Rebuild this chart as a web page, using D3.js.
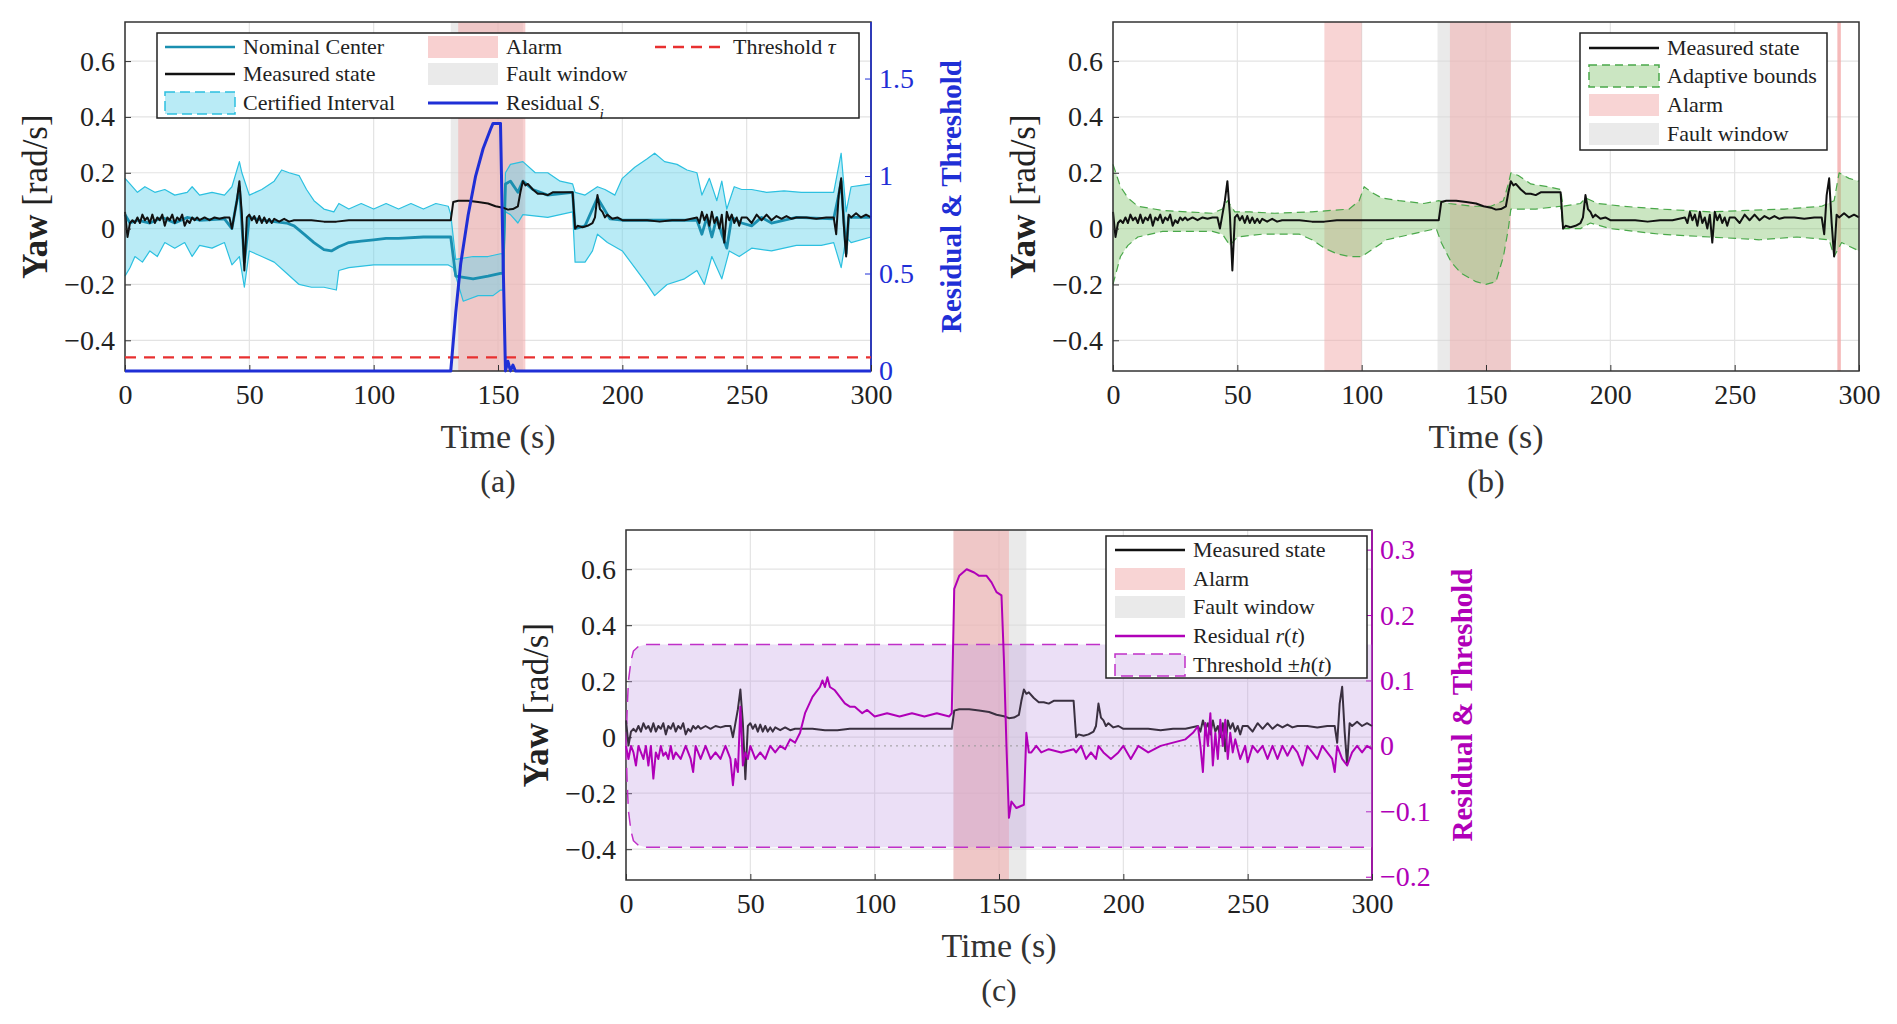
<!DOCTYPE html>
<html><head><meta charset="utf-8">
<script src="https://cdn.jsdelivr.net/npm/d3@7/dist/d3.min.js"></script>
<style>body{margin:0;background:#fff}text{font-family:"Liberation Serif","DejaVu Serif",serif !important}</style>
</head><body><svg id="c" width="1897" height="1024"></svg>
<script>
// ---------- DATA ----------
const xTicks=[0,50,100,150,200,250,300];
const yTicks=[-0.4,-0.2,0,0.2,0.4,0.6];
const yTickLabels=["\u22120.4","\u22120.2","0","0.2","0.4","0.6"];
const measured=[[0,0.06],[1,-0.03],[2,0.02],[3,0.03],[4,0.02],[5,0.04],[6,0.02],[7,0.05],[8,0.03],[9,0.04],[10,0.02],[11,0.05],[12,0.02],[13,0.04],[14,0.03],[15,0.05],[16,0.01],[17,0.04],[18,0.03],[19,0.05],[20,0.02],[21,0.04],[22,0.03],[23,0.05],[24,0.01],[25,0.03],[26,0.02],[27,0.04],[28,0.03],[29,0.04],[30,0.03],[32,0.04],[34,0.03],[36,0.04],[38,0.035],[40,0.04],[42,0.04],[43,0.0],[44,0.05],[45,0.10],[46,0.17],[47,0.05],[48,-0.15],[49,0.04],[50,0.05],[51,0.03],[52,0.045],[53,0.02],[54,0.045],[55,0.02],[56,0.04],[57,0.02],[58,0.035],[59,0.02],[60,0.035],[62,0.025],[64,0.035],[66,0.025],[68,0.03],[70,0.03],[75,0.03],[80,0.025],[85,0.025],[90,0.03],[100,0.03],[110,0.03],[120,0.03],[131,0.03],[132,0.095],[134,0.10],[138,0.10],[142,0.095],[146,0.09],[149,0.08],[152,0.075],[154,0.068],[156,0.07],[158,0.08],[159,0.13],[160,0.17],[161,0.155],[162,0.16],[164,0.14],[166,0.125],[168,0.125],[170,0.12],[172,0.13],[176,0.13],[180,0.13],[181,0.0],[182,0.01],[184,0.005],[186,0.01],[188,0.02],[189,0.04],[190,0.12],[191,0.07],[192,0.06],[193,0.04],[194,0.05],[196,0.035],[198,0.04],[200,0.03],[205,0.03],[210,0.03],[215,0.025],[220,0.03],[225,0.03],[230,0.04],[231,0.02],[232,0.06],[233,0.03],[234,0.05],[235,0.01],[236,0.06],[237,0.02],[238,0.04],[239,0.0],[240,0.05],[241,-0.05],[242,0.06],[243,0.03],[244,0.05],[245,0.02],[246,0.04],[247,0.01],[248,0.04],[250,0.04],[252,0.02],[254,0.05],[256,0.03],[258,0.05],[260,0.03],[262,0.045],[264,0.035],[266,0.045],[268,0.035],[270,0.04],[274,0.04],[278,0.035],[282,0.04],[285,0.04],[286,-0.02],[287,0.12],[288,0.18],[289,0.02],[290,-0.1],[291,0.05],[292,0.04],[294,0.055],[296,0.04],[298,0.05],[300,0.04]];
const nominalCenter=[[0,0.05],[2,0.02],[5,0.03],[10,0.02],[15,0.04],[20,0.02],[25,0.04],[30,0.03],[40,0.035],[43,0.0],[46,0.15],[48,-0.12],[50,0.04],[55,0.03],[60,0.025],[65,0.02],[68,0.01],[72,-0.02],[76,-0.05],[80,-0.075],[83,-0.08],[86,-0.065],[90,-0.05],[95,-0.045],[100,-0.04],[105,-0.035],[110,-0.035],[120,-0.03],[131,-0.03],[133,-0.17],[140,-0.18],[146,-0.17],[151,-0.16],[152,-0.16],[153,0.16],[155,0.17],[158,0.13],[160,0.17],[164,0.14],[170,0.12],[180,0.13],[181,0.0],[185,0.01],[190,0.11],[195,0.035],[200,0.03],[220,0.03],[230,0.03],[232,-0.02],[234,0.04],[236,-0.03],[238,0.04],[240,-0.02],[242,-0.07],[244,0.04],[248,0.02],[252,0.01],[256,0.04],[260,0.02],[270,0.04],[285,0.035],[287,0.12],[288,0.17],[290,-0.09],[291,0.04],[300,0.04]];
const certUpper=[[0,0.18],[2,0.16],[5,0.13],[8,0.15],[12,0.13],[16,0.14],[20,0.12],[25,0.13],[27,0.15],[30,0.12],[35,0.13],[40,0.12],[43,0.15],[46,0.24],[47,0.2],[50,0.12],[55,0.14],[60,0.17],[63,0.21],[66,0.2],[70,0.19],[73,0.14],[76,0.1],[80,0.07],[84,0.06],[86,0.09],[90,0.07],[95,0.09],[100,0.07],[105,0.09],[110,0.07],[115,0.09],[120,0.07],[125,0.09],[130,0.08],[131,0.05],[133,-0.11],[140,-0.1],[146,-0.1],[151,-0.09],[152,-0.09],[153,0.2],[155,0.23],[160,0.24],[165,0.2],[170,0.2],[175,0.17],[180,0.16],[181,0.13],[185,0.12],[190,0.15],[193,0.14],[197,0.12],[200,0.18],[205,0.22],[210,0.25],[213,0.27],[217,0.24],[222,0.23],[226,0.21],[230,0.2],[232,0.12],[235,0.18],[238,0.1],[240,0.17],[242,0.07],[245,0.15],[248,0.14],[252,0.14],[258,0.13],[265,0.135],[272,0.13],[280,0.13],[285,0.13],[288,0.27],[290,0.06],[292,0.15],[296,0.155],[300,0.16]];
const certLower=[[0,-0.17],[2,-0.14],[4,-0.1],[7,-0.12],[10,-0.08],[13,-0.1],[16,-0.05],[20,-0.07],[24,-0.05],[27,-0.1],[30,-0.06],[35,-0.07],[40,-0.05],[43,-0.13],[46,-0.1],[48,-0.21],[50,-0.08],[55,-0.1],[60,-0.12],[65,-0.16],[70,-0.2],[75,-0.21],[80,-0.21],[85,-0.22],[86,-0.15],[90,-0.14],[100,-0.13],[110,-0.13],[120,-0.13],[130,-0.13],[132,-0.14],[136,-0.26],[142,-0.24],[148,-0.24],[151,-0.22],[152,-0.22],[153,0.06],[155,0.05],[158,0.02],[160,0.05],[170,0.04],[180,0.06],[181,-0.12],[185,-0.12],[188,-0.08],[190,-0.02],[194,-0.05],[200,-0.08],[205,-0.14],[210,-0.2],[213,-0.24],[218,-0.2],[225,-0.18],[230,-0.15],[233,-0.2],[236,-0.1],[240,-0.18],[243,-0.08],[247,-0.1],[252,-0.07],[260,-0.08],[270,-0.06],[280,-0.06],[285,-0.05],[288,-0.14],[290,-0.03],[292,-0.05],[300,-0.03]];
const residualS=[[0,0],[131,0],[133,0.3],[135,0.55],[138,0.8],[141,1.0],[144,1.14],[147,1.24],[148,1.27],[151,1.27],[152,0.6],[153,0.0],[154,0.05],[155,0.0],[156,0.03],[157,0],[300,0]];
const thresholdTau=0.07;
const adaptUpper=[[0,0.23],[3,0.15],[6,0.11],[10,0.08],[20,0.065],[30,0.06],[40,0.055],[44,0.07],[46,0.1],[49,0.06],[55,0.06],[65,0.055],[80,0.06],[95,0.07],[99,0.1],[101,0.15],[104,0.13],[108,0.11],[115,0.1],[125,0.09],[131,0.1],[135,0.09],[145,0.08],[152,0.08],[157,0.1],[159,0.16],[160,0.2],[163,0.19],[168,0.16],[175,0.15],[180,0.14],[181,0.08],[188,0.09],[190,0.11],[195,0.09],[205,0.08],[220,0.07],[240,0.06],[255,0.065],[270,0.07],[285,0.08],[290,0.1],[292,0.2],[296,0.18],[300,0.17]];
const adaptLower=[[0,-0.2],[3,-0.1],[6,-0.06],[10,-0.03],[20,-0.01],[40,-0.01],[44,-0.02],[47,-0.06],[50,-0.03],[60,-0.02],[75,-0.02],[80,-0.04],[85,-0.07],[90,-0.09],[95,-0.1],[100,-0.1],[105,-0.07],[110,-0.04],[120,-0.02],[130,-0.0],[132,-0.05],[136,-0.12],[140,-0.16],[146,-0.19],[150,-0.2],[154,-0.19],[157,-0.1],[159,0.0],[160,0.07],[165,0.07],[170,0.07],[180,0.08],[181,0.0],[188,0.0],[192,0.02],[200,0.0],[220,-0.02],[240,-0.03],[260,-0.04],[275,-0.03],[288,-0.04],[290,-0.1],[293,-0.05],[300,-0.08]];
const residualR=[[0,0.0],[1,-0.02],[2,0.0],[3,-0.01],[4,-0.03],[5,0.0],[6,-0.01],[7,-0.02],[8,0.0],[9,-0.03],[10,-0.0],[11,-0.05],[12,-0.01],[13,-0.02],[14,0.0],[15,-0.015],[16,-0.01],[17,-0.02],[18,0.0],[19,-0.02],[20,-0.01],[22,-0.02],[24,0.0],[26,-0.02],[27,-0.04],[28,-0.0],[30,-0.02],[32,0.0],[34,-0.02],[36,-0.01],[38,-0.02],[40,-0.0],[42,-0.02],[43,-0.06],[44,-0.02],[45,-0.04],[46,0.06],[47,-0.03],[48,-0.01],[49,-0.02],[50,-0.0],[52,-0.02],[54,-0.01],[56,-0.02],[58,-0.0],[60,-0.01],[62,0.0],[64,-0.005],[66,0.01],[68,0.005],[70,0.02],[72,0.05],[75,0.075],[78,0.09],[79,0.1],[80,0.09],[81,0.105],[82,0.09],[84,0.085],[86,0.075],[88,0.065],[90,0.06],[92,0.06],[95,0.05],[97,0.055],[100,0.045],[105,0.05],[110,0.045],[115,0.05],[120,0.045],[125,0.05],[130,0.045],[131,0.05],[132,0.24],[134,0.26],[137,0.27],[140,0.265],[142,0.26],[145,0.26],[147,0.25],[149,0.235],[151,0.23],[152,0.13],[153,0.0],[154,-0.11],[155,-0.085],[157,-0.095],[160,-0.09],[161,0.02],[162,-0.01],[163,-0.01],[165,-0.0],[167,-0.01],[170,-0.005],[175,-0.01],[180,-0.005],[181,-0.01],[183,-0.0],[185,-0.02],[187,-0.01],[189,-0.02],[190,0.0],[192,-0.01],[195,-0.02],[198,-0.01],[200,0.0],[203,-0.02],[206,-0.0],[210,-0.01],[215,0.0],[220,0.005],[225,0.01],[228,0.02],[230,0.03],[231,0.0],[232,-0.04],[233,0.035],[234,0.0],[235,0.05],[236,-0.03],[237,0.02],[238,-0.02],[239,0.04],[240,0.0],[241,0.04],[242,-0.02],[243,0.02],[244,-0.01],[245,0.01],[247,-0.02],[249,0.0],[250,-0.025],[252,0.0],[254,-0.01],[256,0.0],[258,-0.02],[260,-0.0],[262,-0.02],[264,0.0],[266,-0.015],[268,0.0],[270,-0.01],[272,-0.03],[274,0.0],[276,-0.01],[278,-0.02],[280,-0.0],[282,-0.01],[284,-0.02],[285,-0.04],[286,0.0],[288,-0.02],[290,-0.03],[292,-0.01],[294,-0.0],[296,-0.01],[298,-0.0],[300,-0.005]];
const thresholdH=[[0,0.0],[0.5,0.06],[1,0.1],[2,0.13],[3,0.145],[5,0.152],[8,0.155],[300,0.155]];
const rightTicksA=[0,0.5,1,1.5];
const rightTicksC=[-0.2,-0.1,0,0.1,0.2,0.3];
const rightTicksCLabels=["\u22120.2","\u22120.1","0","0.1","0.2","0.3"];

// ---------- DRAW ----------
const SERIF="Liberation Serif";
const svg=d3.select("#c");
function styleAxis(a,fs,col){a.attr("font-family",SERIF).attr("font-size",fs);a.select(".domain").remove();a.selectAll("text").attr("font-size",fs).attr("fill",col).attr("font-family",SERIF);}
function panel(o){
  const g=svg.append("g");
  const x=d3.scaleLinear().domain([0,300]).range([o.l,o.r]);
  const y=d3.scaleLinear().domain([-0.51,0.74]).range([o.b,o.t]);
  const W=o.r-o.l,H=o.b-o.t;
  g.selectAll(".gx").data(xTicks).enter().append("line").attr("x1",d=>x(d)).attr("x2",d=>x(d)).attr("y1",o.t).attr("y2",o.b).attr("stroke","#e3e3e3").attr("stroke-width",1.2);
  g.selectAll(".gy").data(yTicks).enter().append("line").attr("x1",o.l).attr("x2",o.r).attr("y1",d=>y(d)).attr("y2",d=>y(d)).attr("stroke","#e3e3e3").attr("stroke-width",1.2);
  o.draw(g,x,y);
  g.append("rect").attr("x",o.l).attr("y",o.t).attr("width",W).attr("height",H).attr("fill","none").attr("stroke","#333").attr("stroke-width",1.5);
  if(o.rightColor) g.append("line").attr("x1",o.r).attr("x2",o.r).attr("y1",o.t).attr("y2",o.b).attr("stroke",o.rightColor).attr("stroke-width",1.5);
  const fs=28;
  const ax=g.append("g").attr("transform",`translate(0,${o.b})`).call(d3.axisBottom(x).tickValues(xTicks).tickSize(-6).tickPadding(13).tickFormat(d3.format("d")));
  styleAxis(ax,fs,"#222"); ax.selectAll("line").attr("stroke","#333");
  const ay=g.append("g").attr("transform",`translate(${o.l},0)`).call(d3.axisLeft(y).tickValues(yTicks).tickSize(-6).tickPadding(10).tickFormat((d,i)=>yTickLabels[i]));
  styleAxis(ay,fs,"#222"); ay.selectAll("line").attr("stroke","#333");
  g.append("text").attr("x",(o.l+o.r)/2).attr("y",o.b+77).attr("text-anchor","middle").attr("font-size",34).attr("fill","#333").text("Time (s)");
  g.append("text").attr("x",(o.l+o.r)/2).attr("y",o.b+121).attr("text-anchor","middle").attr("font-size",32).attr("fill","#333").text(o.cap);
  const yl=g.append("text").attr("transform",`translate(${o.l-78},${(o.t+o.b)/2}) rotate(-90)`).attr("text-anchor","middle").attr("font-size",35).attr("fill","#222");
  yl.append("tspan").attr("font-weight","bold").text("Yaw");yl.append("tspan").text("  [rad/s]");
  if(o.right){
    const yr=d3.scaleLinear().domain(o.right.domain).range([o.b,o.t]);
    const ar=g.append("g").attr("transform",`translate(${o.r},0)`).call(d3.axisRight(yr).tickValues(o.right.ticks).tickSize(-6).tickPadding(8).tickFormat((d,i)=>o.right.labels[i]));
    styleAxis(ar,fs,o.rightColor); ar.selectAll("line").attr("stroke",o.rightColor);
    g.append("text").attr("transform",`translate(${o.r+o.right.lab},${(o.t+o.b)/2}) rotate(-90)`).attr("text-anchor","middle").attr("font-size",29).attr("font-weight","bold").attr("fill",o.rightColor).text("Residual & Threshold");
    o.drawR(g,x,yr);
  }
  o.legend(g);
}
function band(g,x,o,a,b,col,op){g.append("rect").attr("x",x(a)).attr("width",x(b)-x(a)).attr("y",o.t).attr("height",o.b-o.t).attr("fill",col).attr("opacity",op);}
function path(g,data,x,y,col,w,dash){g.append("path").datum(data).attr("d",d3.line().x(d=>x(d[0])).y(d=>y(d[1]))).attr("fill","none").attr("stroke",col).attr("stroke-width",w).attr("stroke-dasharray",dash||null).attr("stroke-linejoin","round");}
function bandArea(g,up,lo,x,y,fill,edge,ew,dash){
  const pts=up.map(d=>[x(d[0]),y(d[1])]).concat(lo.slice().reverse().map(d=>[x(d[0]),y(d[1])]));
  g.append("path").attr("d","M"+pts.join("L")+"Z").attr("fill",fill).attr("stroke","none");
  path(g,up,x,y,edge,ew,dash);path(g,lo,x,y,edge,ew,dash);
}
function legend(g,x0,y0,w,h,items,rowH,fs){
  const L=g.append("g");
  L.append("rect").attr("x",x0).attr("y",y0).attr("width",w).attr("height",h).attr("fill","#fff").attr("stroke","#222").attr("stroke-width",1.5);
  items.forEach(it=>{
    const cx=it.x, cy=it.y;
    if(it.type==="line") L.append("line").attr("x1",cx).attr("x2",cx+it.w).attr("y1",cy).attr("y2",cy).attr("stroke",it.c).attr("stroke-width",it.sw||2.5).attr("stroke-dasharray",it.dash||null);
    else L.append("rect").attr("x",cx).attr("y",cy-11).attr("width",it.w).attr("height",22).attr("fill",it.c).attr("stroke",it.e||"none").attr("stroke-width",it.e?1.5:0).attr("stroke-dasharray",it.dash||null).attr("opacity",it.op||1);
    const t=L.append("text").attr("x",cx+it.w+8).attr("y",cy+7).attr("font-size",fs).attr("fill","#222");
    if(it.html){it.html.forEach(p=>t.append("tspan").attr("font-style",p[1]?"italic":null).attr("baseline-shift",p[2]?"sub":null).attr("font-size",p[2]?fs*0.7:null).text(p[0]));} else t.text(it.t);
  });
}
const ALARM="#f2a9a9",FAULT="#d9d9d9";
panel({l:125,r:871,t:22,b:371,cap:"(a)",rightColor:"#1f2fd6",
 right:{domain:[0,1.79],ticks:rightTicksA,labels:rightTicksA.map(String),lab:90},
 draw:(g,x,y)=>{
  const o={t:22,b:371};
  band(g,x,o,131,160,FAULT,0.55);band(g,x,o,134,161,ALARM,0.55);
  bandArea(g,certUpper,certLower,x,y,"rgba(100,210,235,0.45)","#2cc0e0",1.2);
  path(g,nominalCenter,x,y,"#1a8fb0",2.8);
  path(g,measured,x,y,"#111",2);
 },
 drawR:(g,x,yr)=>{
  g.append("line").attr("x1",x(0)).attr("x2",x(300)).attr("y1",yr(thresholdTau)).attr("y2",yr(thresholdTau)).attr("stroke","#e83030").attr("stroke-width",2.2).attr("stroke-dasharray","11,8");
  path(g,residualS,x,yr,"#1f2fd6",3);
 },
 legend:g=>legend(g,157,33,702,85,[
  {type:"line",x:165,y:47,w:70,c:"#1a8fb0",t:"Nominal Center"},
  {type:"line",x:165,y:74,w:70,c:"#111",t:"Measured state"},
  {type:"rect",x:165,y:103,w:70,c:"rgba(100,210,235,0.45)",e:"#2cc0e0",dash:"10,5",t:"Certified Interval"},
  {type:"rect",x:428,y:47,w:70,c:ALARM,op:0.55,t:"Alarm"},
  {type:"rect",x:428,y:74,w:70,c:FAULT,op:0.55,t:"Fault window"},
  {type:"line",x:428,y:103,w:70,c:"#1f2fd6",sw:3,html:[["Residual "],["S",1],["i",1,1]]},
  {type:"line",x:655,y:47,w:70,c:"#e83030",dash:"11,7",html:[["Threshold "],["τ",1]]}
 ],27,22)
});
panel({l:1113,r:1859,t:22,b:371,cap:"(b)",
 draw:(g,x,y)=>{
  const o={t:22,b:371};
  band(g,x,o,85,100,ALARM,0.5);band(g,x,o,130.5,160,FAULT,0.55);band(g,x,o,135.5,160,ALARM,0.5);band(g,x,o,291.3,292.7,ALARM,0.8);
  bandArea(g,adaptUpper,adaptLower,x,y,"rgba(140,200,120,0.45)","#4aa84a",1.2,"8,5");
  path(g,measured,x,y,"#111",2);
 },
 legend:g=>legend(g,1580,33,247,117,[
  {type:"line",x:1589,y:48,w:70,c:"#111",t:"Measured state"},
  {type:"rect",x:1589,y:76,w:70,c:"rgba(140,200,120,0.45)",e:"#4aa84a",dash:"8,5",t:"Adaptive bounds"},
  {type:"rect",x:1589,y:105,w:70,c:ALARM,op:0.5,t:"Alarm"},
  {type:"rect",x:1589,y:134,w:70,c:FAULT,op:0.55,t:"Fault window"}
 ],28,22)
});
panel({l:626,r:1372,t:530,b:880,cap:"(c)",rightColor:"#b000b8",
 right:{domain:[-0.205,0.33],ticks:rightTicksC,labels:rightTicksCLabels,lab:100},
 draw:(g,x,y)=>{
  const o={t:530,b:880};
  band(g,x,o,131.7,161,FAULT,0.55);band(g,x,o,131.7,154,ALARM,0.55);
 },
 drawR:(g,x,yr)=>{
  const neg=thresholdH.map(d=>[d[0],-d[1]]);
  bandArea(g,thresholdH,neg,x,yr,"rgba(190,150,225,0.3)","#c030c8",1.5,"14,8");
  g.append("line").attr("x1",x(0)).attr("x2",x(300)).attr("y1",yr(0)).attr("y2",yr(0)).attr("stroke","#999").attr("stroke-width",1).attr("stroke-dasharray","2,4");
  const yl=d3.scaleLinear().domain([-0.51,0.74]).range([880,530]);
  path(g,measured,x,yl,"#3a3040",2);
  path(g,residualR,x,yr,"#b000b8",2);
 },
 legend:g=>legend(g,1106,536,261,142,[
  {type:"line",x:1115,y:550,w:70,c:"#111",t:"Measured state"},
  {type:"rect",x:1115,y:579,w:70,c:ALARM,op:0.5,t:"Alarm"},
  {type:"rect",x:1115,y:607,w:70,c:FAULT,op:0.55,t:"Fault window"},
  {type:"line",x:1115,y:636,w:70,c:"#b000b8",html:[["Residual "],["r",1],["("],["t",1],[")"]]},
  {type:"rect",x:1115,y:665,w:70,c:"rgba(190,150,225,0.3)",e:"#c030c8",dash:"12,6",html:[["Threshold ±"],["h",1],["("],["t",1],[")"]]}
 ],28,22)
});
</script></body></html>
